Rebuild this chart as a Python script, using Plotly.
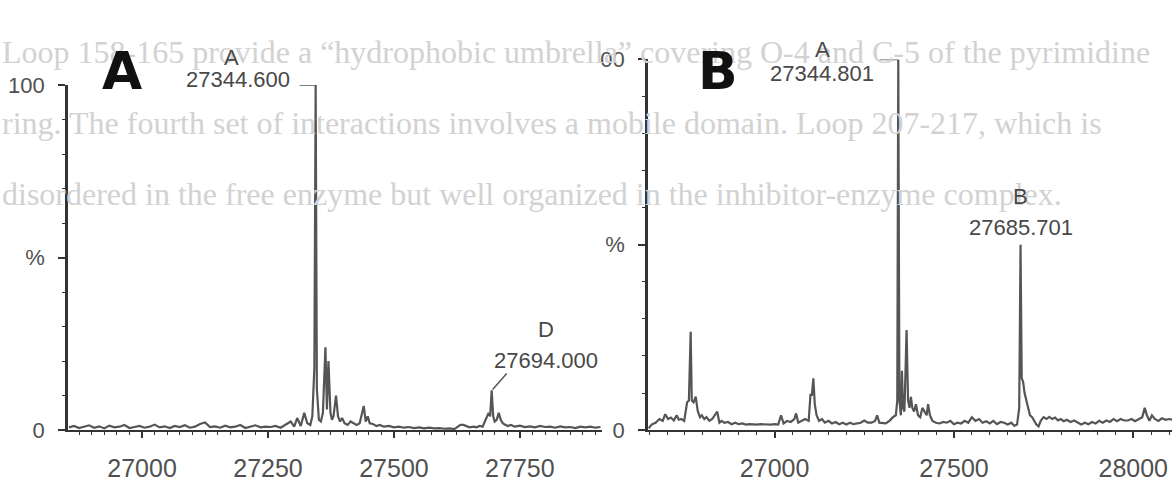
import plotly.graph_objects as go

W, H = 1172, 482

# ---- Spectrum A (deconvoluted mass spectrum, m/z vs relative intensity %) ----
mz_a = [
    26855, 26865, 26875, 26885, 26895, 26905, 26915, 26925, 26935, 26945,
    26955, 26965, 26975, 26985, 26995, 27005, 27015, 27025, 27035, 27045,
    27055, 27065, 27075, 27085, 27095, 27105, 27115, 27125, 27135, 27145,
    27155, 27165, 27175, 27185, 27195, 27205, 27215, 27225, 27235, 27245,
    27255, 27265, 27275, 27285, 27295, 27302, 27308, 27315, 27322, 27328,
    27334, 27338, 27342, 27344.6, 27347, 27351, 27355, 27359, 27364, 27367,
    27370, 27374, 27377, 27380, 27385, 27389, 27393, 27397, 27402, 27408,
    27414, 27420, 27426, 27432, 27440, 27444, 27448, 27452, 27458, 27465,
    27472, 27480, 27490, 27500, 27510, 27520, 27530, 27540, 27550, 27560,
    27570, 27580, 27590, 27600, 27610, 27620, 27632, 27638, 27650, 27658,
    27664, 27670, 27676, 27682, 27688, 27691, 27694, 27697, 27700, 27704,
    27708, 27712, 27716, 27720, 27726, 27732, 27740, 27750, 27760, 27770,
    27780, 27790, 27800, 27810, 27820, 27830, 27840, 27850, 27860, 27870,
    27880, 27890, 27900, 27910,
]
int_a = [
    0.8, 1.2, 0.6, 1.0, 1.4, 0.7, 1.1, 0.5, 1.3, 0.8,
    1.0, 1.5, 0.6, 0.9, 1.2, 0.7, 1.0, 1.6, 0.8, 1.1,
    0.6, 1.2, 0.9, 1.4, 0.7, 1.0, 1.8, 2.2, 0.9, 1.1,
    0.7, 1.3, 0.8, 1.0, 1.5, 0.6, 1.1, 1.4, 0.8, 1.0,
    0.9, 1.2, 0.7, 1.6, 2.5, 1.0, 3.5, 1.2, 5.0, 2.0,
    1.5, 4.0, 18.0, 100.0, 12.0, 3.0, 2.5, 5.0, 24.0, 6.0,
    20.0, 5.0, 3.0, 4.0, 10.0, 4.0, 2.5, 3.5, 2.0, 1.5,
    2.5, 2.0, 1.5, 2.0, 7.0, 2.5, 4.0, 2.0, 1.8, 1.2,
    1.5, 1.0, 1.2, 0.8, 1.0, 0.7, 0.9, 0.6, 0.8, 0.5,
    0.7, 0.5, 0.6, 0.4, 0.5, 0.3, 1.5, 1.5, 0.8, 1.0,
    0.8, 1.2, 1.0, 3.0, 5.0, 4.0, 11.5, 4.0, 2.5, 3.0,
    5.0, 3.0, 2.0, 1.6, 1.2, 1.5, 1.0, 1.3, 0.9, 1.1,
    0.8, 1.2, 0.9, 1.0, 0.7, 1.1, 0.8, 0.9, 0.6, 1.0,
    0.8, 1.0, 0.7, 0.9,
]

# ---- Spectrum B ----
mz_b = [
    26649, 26657, 26668, 26679, 26688, 26695, 26703, 26711, 26719, 26727,
    26733, 26740, 26748, 26756, 26761, 26766, 26769, 26774, 26780, 26786,
    26792, 26797, 26804, 26810, 26818, 26826, 26840, 26846, 26852, 26860,
    26870, 26880, 26890, 26900, 26910, 26920, 26930, 26940, 26950, 26960,
    26970, 26980, 26990, 27000, 27010, 27018, 27025, 27035, 27045, 27055,
    27060, 27066, 27075, 27085, 27095, 27100, 27104, 27108, 27112, 27117,
    27124, 27132, 27140, 27150, 27160, 27170, 27180, 27190, 27200, 27210,
    27220, 27230, 27240, 27250, 27260, 27270, 27280, 27286, 27292, 27310,
    27320, 27330, 27338, 27342, 27344.8, 27348, 27352, 27355, 27358, 27362,
    27368, 27372, 27376, 27380, 27384, 27389, 27394, 27400, 27406, 27412,
    27418, 27424, 27428, 27433, 27440, 27450, 27460, 27470, 27480, 27490,
    27500, 27510, 27520, 27530, 27540, 27550, 27560, 27570, 27580, 27590,
    27600, 27610, 27620, 27630, 27640, 27650, 27660, 27668, 27676, 27682,
    27685.7, 27689, 27693, 27697, 27702, 27707, 27712, 27718, 27724, 27730,
    27736, 27742, 27750, 27758, 27766, 27774, 27782, 27790, 27798, 27806,
    27815, 27825, 27835, 27845, 27855, 27865, 27875, 27885, 27895, 27905,
    27915, 27925, 27935, 27945, 27955, 27965, 27975, 27985, 27995, 28005,
    28015, 28025, 28032, 28038, 28045, 28052, 28060, 28070, 28080, 28090,
    28100, 28110,
]
int_b = [
    0.5, 1.5, 2.0, 3.0, 2.5, 4.3, 3.0, 3.4, 2.6, 4.0,
    2.8, 3.0, 2.5, 7.5, 8.0, 26.5, 8.0, 7.5, 9.0, 5.0,
    3.5, 4.0, 3.0, 3.5, 2.5, 3.0, 5.0, 2.0, 2.5, 2.0,
    2.2, 1.6, 2.0, 1.6, 1.8, 1.5, 1.6, 1.5, 1.5, 1.6,
    1.5, 1.6, 1.5, 1.6, 1.5, 4.0, 1.8, 2.5, 2.2, 3.0,
    4.5, 2.0, 2.5, 3.0, 2.5, 9.5, 9.5, 14.0, 7.0, 4.0,
    2.5, 3.0, 2.0, 2.5, 1.8, 2.2, 1.6, 2.0, 1.5, 2.0,
    1.6, 1.8, 2.0, 2.6, 2.0, 2.0, 2.5, 4.0, 2.0, 1.8,
    2.5, 3.5, 4.0, 8.0, 100.0, 8.0, 4.0, 16.0, 6.0, 5.0,
    27.0, 8.0, 6.0, 9.0, 6.0, 5.0, 7.0, 4.0, 3.5, 6.0,
    5.0, 4.0, 7.0, 4.0, 2.5, 2.0, 1.8, 2.2, 2.0, 2.5,
    1.6, 2.0, 1.8, 2.5, 2.0, 3.5, 2.5, 3.0, 2.0, 2.4,
    1.8, 2.5, 1.6, 2.2, 2.0, 1.5, 2.0, 1.2, 1.5, 6.0,
    50.0, 14.0, 13.0, 10.0, 8.0, 6.0, 4.0, 3.5, 2.5, 1.5,
    1.0, 2.5, 3.5, 3.0, 3.6, 3.0, 3.4, 2.6, 3.0, 2.4,
    2.8, 2.2, 2.6, 2.0, 1.5, 2.0, 1.6, 2.2, 1.8, 2.5,
    2.0, 2.6, 2.2, 3.0, 2.4, 3.0, 2.6, 2.6, 3.0, 2.4,
    3.0, 3.5, 6.0, 4.0, 2.5, 4.0, 3.0, 2.5, 3.2, 2.8,
    3.0, 2.8,
]

# Labelled peaks: tag letter, mass label
peak_a_mz = [27344.6, 27694.0]
peak_a_tag = ["A", "D"]
peak_a_txt = ["27344.600", "27694.000"]
peak_b_mz = [27344.8, 27685.7]
peak_b_tag = ["A", "B"]
peak_b_txt = ["27344.801", "27685.701"]

# Axis tick labels
xa_ticks = [26875, 27000, 27125, 27250, 27375, 27500, 27625, 27750, 27875]
xa_text = ["", "27000", "", "27250", "", "27500", "", "27750", ""]
xb_ticks = [26750, 27000, 27250, 27500, 27750, 28000]
xb_text = ["", "27000", "", "27500", "", "28000"]
ya_text = ["0", "%", "100"]
yb_text = ["0", "%", "00"]

# Page text printed under the figure
page_lines = [
    "Loop 158-165 provide a \u201chydrophobic umbrella\u201d covering O-4 and C-5 of the pyrimidine",
    "ring. The fourth set of interactions involves a mobile domain. Loop 207-217, which is",
    "disordered in the free enzyme but well organized in the inhibitor-enzyme complex.",
]

INK = "#333333"
LINE = "#555555"
FONT = "Liberation Sans Narrow, Liberation Sans, Arial, sans-serif"


def px(x):
    return x / W


def py(y):
    return 1 - y / H


fig = go.Figure()

for i, line in enumerate(page_lines):
    fig.add_annotation(
        x=0, y=py([42, 117, 192][i]), xref="paper", yref="paper",
        xanchor="left", yanchor="middle", text=line, showarrow=False,
        font=dict(family="Liberation Serif, Times New Roman, serif", size=32, color="#d2d2d2"),
    )

fig.add_trace(go.Scatter(x=mz_a, y=int_a, mode="lines", xaxis="x", yaxis="y",
                         line=dict(color=LINE, width=2.2), showlegend=False,
                         hoverinfo="skip"))
fig.add_trace(go.Scatter(x=mz_b, y=int_b, mode="lines", xaxis="x2", yaxis="y2",
                         line=dict(color=LINE, width=2.2), showlegend=False,
                         hoverinfo="skip"))


def peak_height(mzs, ints, m):
    return ints[mzs.index(m)]


common_x = dict(showgrid=False, zeroline=False, showline=True, linecolor=INK,
                linewidth=2.4, ticks="outside", ticklen=6, tickwidth=1.7,
                tickcolor=INK, tickfont=dict(family=FONT, size=25, color="#505050"),
                ticklabelstandoff=9, tickmode="array", fixedrange=True)
common_y = dict(showgrid=False, zeroline=False, showline=True, linecolor=INK,
                linewidth=2.8, ticks="outside", ticklen=7, tickwidth=1.7,
                tickcolor=INK, tickfont=dict(family=FONT, size=22, color="#505050"),
                ticklabelstandoff=9, tickmode="array", range=[0, 100], fixedrange=True)

fig.update_layout(
    width=W, height=H, margin=dict(l=0, r=0, t=0, b=0),
    paper_bgcolor="white", plot_bgcolor="rgba(0,0,0,0)",
    xaxis=dict(common_x, domain=[px(68), px(602)], range=[26853, 27913], anchor="y",
               tickvals=xa_ticks, ticktext=xa_text,
               minor=dict(tickvals=list(range(26850, 27926, 25)), ticks="outside",
                          ticklen=3, tickwidth=1.3, tickcolor=INK)),
    yaxis=dict(common_y, domain=[py(441), py(77)], anchor="x",
               tickvals=[0, 50, 100], ticktext=ya_text,
               minor=dict(tickvals=list(range(0, 101, 10)), ticks="outside",
                          ticklen=3, tickwidth=1.3, tickcolor=INK)),
    xaxis2=dict(common_x, domain=[px(648), 1.0], range=[26647, 28108], anchor="y2",
                tickvals=xb_ticks, ticktext=xb_text,
                minor=dict(tickvals=list(range(26650, 28101, 50)), ticks="outside",
                           ticklen=3, tickwidth=1.3, tickcolor=INK)),
    yaxis2=dict(common_y, domain=[py(441), py(50)], anchor="x2",
                tickvals=[0, 50, 100], ticktext=yb_text,
                minor=dict(tickvals=list(range(0, 101, 10)), ticks="outside",
                           ticklen=3, tickwidth=1.3, tickcolor=INK)),
)

# Panel letters
for letter, xc in (("A", 100), ("B", 718)):
    fig.add_annotation(x=px(xc), y=py(28), xref="paper", yref="paper",
                       text="<b>" + letter + "</b>", showarrow=False,
                       font=dict(family="DejaVu Sans, Liberation Sans, Arial, sans-serif",
                                 size=52, color="#111"))

lab_font = dict(family=FONT, size=22, color="#484848")

# Panel A, base peak: label to the left with a bracket
m0 = peak_a_mz[0]
h0 = peak_height(mz_a, int_a, m0)
fig.add_shape(type="line", xref="x", yref="y", x0=m0 - 32, x1=m0, y0=h0, y1=h0,
              line=dict(color=LINE, width=1.6))
fig.add_annotation(x=m0, y=h0, xref="x", yref="y", text=peak_a_txt[0], showarrow=False,
                   xanchor="center", yanchor="middle", xshift=-78, yshift=6, font=lab_font)
fig.add_annotation(x=m0, y=h0, xref="x", yref="y", text=peak_a_tag[0], showarrow=False,
                   xanchor="center", yanchor="middle", xshift=-84, yshift=28, font=lab_font)

# Panel A, peak D: label up-right with a short leader from the peak top
m1 = peak_a_mz[1]
h1 = peak_height(mz_a, int_a, m1)
fig.add_shape(type="line", xref="x", yref="y", xsizemode="pixel", ysizemode="pixel",
              xanchor=m1, yanchor=h1, x0=1, y0=1, x1=15, y1=17,
              line=dict(color=LINE, width=1.5))
fig.add_annotation(x=m1, y=h1, xref="x", yref="y", text=peak_a_txt[1], showarrow=False,
                   xanchor="center", yanchor="middle", xshift=54, yshift=30, font=lab_font)
fig.add_annotation(x=m1, y=h1, xref="x", yref="y", text=peak_a_tag[1], showarrow=False,
                   xanchor="center", yanchor="middle", xshift=54, yshift=61, font=lab_font)

# Panel B, base peak: label to the left with a bracket
m2 = peak_b_mz[0]
h2 = peak_height(mz_b, int_b, m2)
fig.add_shape(type="line", xref="x2", yref="y2", x0=m2 - 52, x1=m2, y0=h2, y1=h2,
              line=dict(color=LINE, width=1.6))
fig.add_annotation(x=m2, y=h2, xref="x2", yref="y2", text=peak_b_txt[0], showarrow=False,
                   xanchor="center", yanchor="middle", xshift=-76, yshift=-14, font=lab_font)
fig.add_annotation(x=m2, y=h2, xref="x2", yref="y2", text=peak_b_tag[0], showarrow=False,
                   xanchor="center", yanchor="middle", xshift=-76, yshift=10, font=lab_font)

# Panel B, peak B: label directly above
m3 = peak_b_mz[1]
h3 = peak_height(mz_b, int_b, m3)
fig.add_annotation(x=m3, y=h3, xref="x2", yref="y2", text=peak_b_txt[1], showarrow=False,
                   xanchor="center", yanchor="bottom", yshift=3, font=lab_font)
fig.add_annotation(x=m3, y=h3, xref="x2", yref="y2", text=peak_b_tag[1], showarrow=False,
                   xanchor="center", yanchor="bottom", yshift=34, font=lab_font)

fig.write_html("out.html")
